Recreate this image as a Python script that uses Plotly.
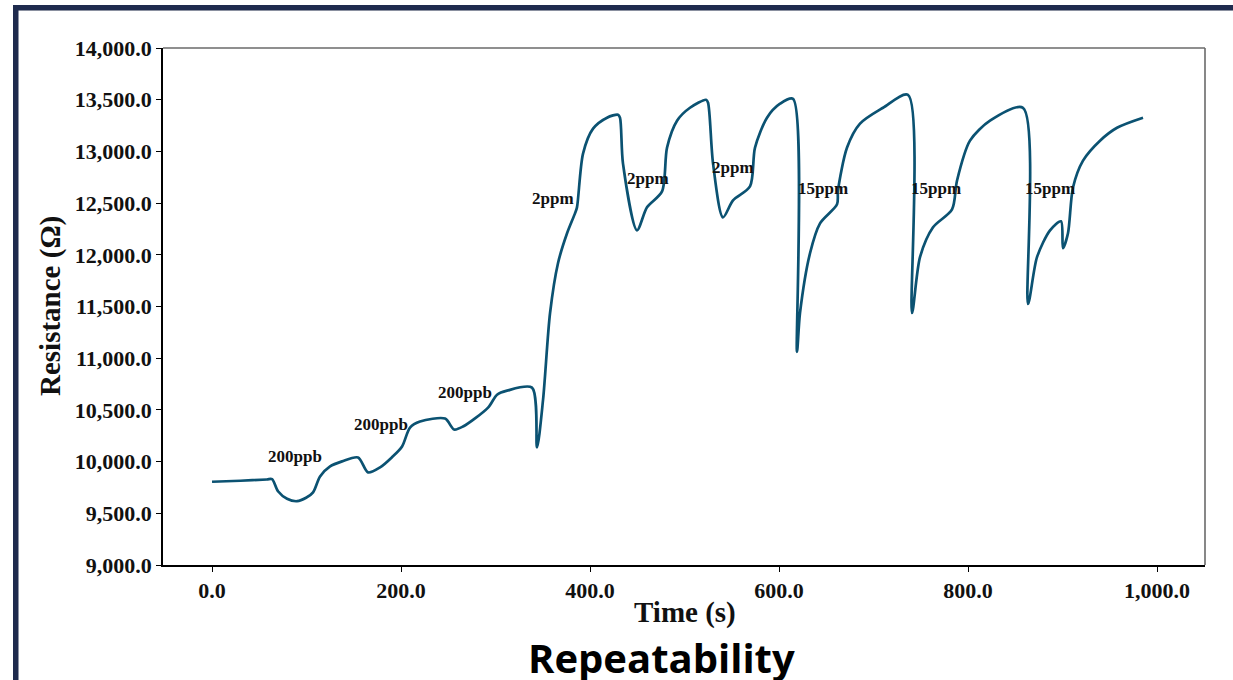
import plotly.graph_objects as go

# Sensor response over time (s) and resistance (ohm)
time_s = [0, 30, 58, 63.5, 69.8, 79.4, 90, 99.5, 106.9, 114.3, 124.9, 137.6, 154.5, 165.1, 177.8, 190.2, 201.1,
          209.5, 220.1, 246.6, 256.1, 265.6, 292.1, 301.6, 312.2, 338.6, 343.9, 350.3, 357.7, 366.1, 375.7,
          384.1, 386.2, 392.6, 403.2, 418, 429.6, 431.7, 434.9, 449.7, 460.3, 476.2, 481.5, 492.1, 505.8,
          522.8, 524.9, 530.2, 540.7, 551.3, 569.3, 574.6, 587.3, 601.1, 614.8, 619, 622.2, 632.8,
          643.4, 661.4, 662.4, 672, 685.7, 710.1, 736.5, 740.7, 749.2, 763, 783.1, 788.4, 802.1,
          823.3, 858.2, 863.5, 873, 886.8, 898.4, 900.5, 905.8, 911.1, 921.7, 939.7, 957.7, 985.2]
resistance = [9805, 9815, 9827, 9830, 9713, 9640, 9617, 9650, 9703, 9857, 9954, 10002, 10040, 9896, 9944, 10040, 10146,
              10329, 10387, 10416, 10310, 10339, 10522, 10647, 10686, 10715, 10137, 10599, 11437, 11919, 12208,
              12401, 12459, 12979, 13220, 13326, 13355, 13326, 12882, 12237, 12459, 12613, 13037, 13297, 13422,
              13499, 13470, 12882, 12362, 12526, 12661, 13037, 13326, 13461, 13509, 11062, 11437, 12015,
              12304, 12488, 12622, 13037, 13268, 13422, 13547, 11437, 11977, 12266, 12439, 12719, 13104,
              13297, 13422, 11524, 11977, 12237, 12324, 12064, 12208, 12651, 12911, 13104, 13229, 13326]

# Concentration labels placed next to each exposure step
label_text = ["200ppb", "200ppb", "200ppb", "2ppm", "2ppm", "2ppm", "15ppm", "15ppm", "15ppm"]
label_t = [87.8, 178.8, 267.7, 360.8, 461.4, 551.3, 646.6, 766.1, 886.8]
label_r = [10050, 10358, 10667, 12545, 12738, 12844, 12642, 12642, 12642]

W, H = 1233, 680
L, R, T, B = 163, 1205, 48, 565  # plot area in pixels


def px_x(px):
    return (px - L) / (R - L)


def px_y(py):
    return (B - py) / (B - T)


serif = "Liberation Serif"
line_color = "#0b5272"
frame_color = "#1f2b4e"

fig = go.Figure()
fig.add_trace(go.Scatter(x=time_s, y=resistance, mode="lines",
                         line=dict(color=line_color, width=2.7, shape="spline", smoothing=0.8),
                         showlegend=False))

annotations = []
for txt, t, r in zip(label_text, label_t, label_r):
    annotations.append(dict(x=t, y=r, xref="x", yref="y", text=txt, showarrow=False,
                            xanchor="center", yanchor="middle",
                            font=dict(family=serif, size=17, color="#111111", weight="bold")))

annotations += [
    dict(x=px_x(685), y=px_y(612), xref="paper", yref="paper", text="Time (s)", showarrow=False,
         xanchor="center", yanchor="middle",
         font=dict(family=serif, size=29, color="#111111", weight="bold")),
    dict(x=px_x(50), y=px_y(306), xref="paper", yref="paper", text="Resistance (\u03a9)",
         textangle=-90, showarrow=False, xanchor="center", yanchor="middle",
         font=dict(family=serif, size=29, color="#111111", weight="bold")),
    dict(x=px_x(661), y=px_y(657), xref="paper", yref="paper", text="Repeatability", showarrow=False,
         xanchor="center", yanchor="middle",
         font=dict(family="Open Sans", size=40, color="#000000", weight="bold")),
]

shapes = [
    # outer frame: top bar and left bar
    dict(type="rect", xref="paper", yref="paper", x0=px_x(13), x1=px_x(1240), y0=px_y(10), y1=px_y(5),
         fillcolor=frame_color, line=dict(width=0), layer="above"),
    dict(type="line", xref="paper", yref="paper", x0=px_x(13), x1=px_x(1240), y0=px_y(10.5), y1=px_y(10.5),
         line=dict(color="#8a90a0", width=1)),
    dict(type="rect", xref="paper", yref="paper", x0=px_x(13), x1=px_x(18.5), y0=px_y(700), y1=px_y(5),
         fillcolor=frame_color, line=dict(width=0), layer="above"),
    # grey top and right spines
    dict(type="line", xref="paper", yref="paper", x0=0, x1=1, y0=1, y1=1,
         line=dict(color="#6a6a6a", width=1.6)),
    dict(type="line", xref="paper", yref="paper", x0=1, x1=1, y0=0, y1=1,
         line=dict(color="#6a6a6a", width=1.6)),
]

tick_font = dict(family=serif, size=22, color="#111111", weight="bold")

fig.update_layout(
    width=W, height=H,
    margin=dict(l=L, r=W - R, t=T, b=H - B),
    paper_bgcolor="white", plot_bgcolor="white",
    annotations=annotations, shapes=shapes,
    xaxis=dict(range=[-51.9, 1050.8], tickvals=[0, 200, 400, 600, 800, 1000], tickformat=",.1f",
               showgrid=False, zeroline=False, showline=True, linecolor="#000000", linewidth=1.5,
               ticks="outside", ticklen=5, tickcolor="#000000", tickfont=tick_font),
    yaxis=dict(range=[9000, 14000], dtick=500, tickformat=",.1f",
               showgrid=False, zeroline=False, showline=True, linecolor="#000000", linewidth=1.5,
               ticks="outside", ticklen=5, tickcolor="#000000", tickfont=tick_font),
)

fig.write_html("out.html")
